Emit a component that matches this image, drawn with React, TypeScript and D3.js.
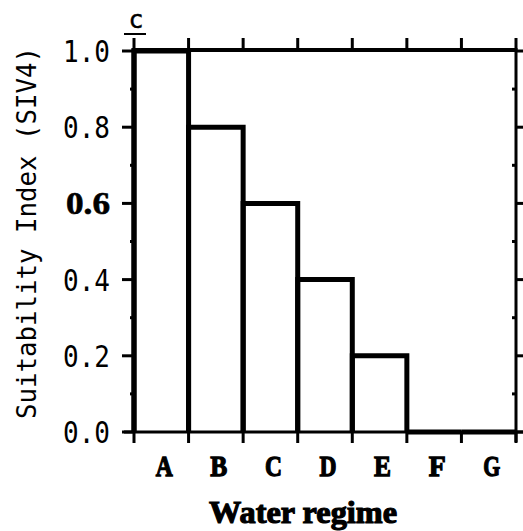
import * as d3 from "d3";

const categories = ["A", "B", "C", "D", "E", "F", "G"];
const values = [1.0, 0.8, 0.6, 0.4, 0.2, 0.0, 0.0];
const yTicks = [0, 0.2, 0.4, 0.6, 0.8, 1.0];
const yMinorTicks = [0.1, 0.3, 0.5, 0.7, 0.9];
const boldTick = 0.6;

const W = 523;
const H = 531;
const left = 134;
const right = 516;
const top = 51;
const bottom = 432;

export default function App() {
  const x = d3.scaleBand<string>().domain(categories).range([left, right]).padding(0);
  const y = d3.scaleLinear().domain([0, 1]).range([bottom, top]);
  const edges = categories.map((c) => x(c)!).concat([right]);

  // step outline of the bars
  const outline = (c: string, i: number) => {
    const x0 = x(c)!;
    const x1 = x0 + x.bandwidth();
    const p = d3.path();
    p.moveTo(x0, y(0));
    p.lineTo(x0, y(values[i]));
    p.lineTo(x1, y(values[i]));
    p.lineTo(x1, y(0));
    return p.toString();
  };

  const mono = "'DejaVu Sans Mono', monospace";
  const serif = "'Liberation Serif', 'DejaVu Serif', serif";

  return (
    <svg width={W} height={H} style={{ position: "absolute", left: 0, top: 0, background: "#fff" }}>
      {/* frame */}
      <line x1={left} x2={right} y1={y(1) - 1} y2={y(1) - 1} stroke="#000" strokeWidth={4} />
      <line x1={left} x2={left} y1={y(1) - 3} y2={bottom} stroke="#000" strokeWidth={5} />
      <line x1={right} x2={right} y1={y(1) - 3} y2={bottom + 10} stroke="#000" strokeWidth={3} />
      <line x1={left - 10} x2={right + 7} y1={bottom} y2={bottom} stroke="#000" strokeWidth={3} />

      {/* bars */}
      {categories.map((c, i) => (
        <path key={c} d={outline(c, i)} fill="none" stroke="#000" strokeWidth={5} strokeLinejoin="miter" />
      ))}

      {/* x ticks top and bottom */}
      {edges.map((e, i) => (
        <g key={i}>
          <line x1={e} x2={e} y1={bottom} y2={bottom + 11} stroke="#000" strokeWidth={3} />
          <line x1={e} x2={e} y1={top - 13} y2={top} stroke="#000" strokeWidth={3} />
        </g>
      ))}

      {/* y ticks */}
      {yTicks.map((t) => (
        <g key={t}>
          <line x1={left - 12} x2={left} y1={y(t)} y2={y(t)} stroke="#000" strokeWidth={3} />
          <line x1={right} x2={right + 7} y1={y(t)} y2={y(t)} stroke="#000" strokeWidth={3} />
          <text
            x={110}
            y={y(t) + 11}
            textAnchor="end"
            fontFamily={t === boldTick ? serif : mono}
            fontWeight={t === boldTick ? "bold" : "normal"}
            fontSize={t === boldTick ? 31 : 30}
            stroke={t === boldTick ? "#000" : "none"}
            strokeWidth={0.6}
            textLength={t === boldTick ? 44 : 47}
            lengthAdjust="spacingAndGlyphs"
          >
            {t.toFixed(1)}
          </text>
        </g>
      ))}
      {yMinorTicks.map((t) => (
        <g key={t}>
          <line x1={left - 4} x2={left} y1={y(t)} y2={y(t)} stroke="#000" strokeWidth={3} />
          <line x1={right - 4} x2={right} y1={y(t)} y2={y(t)} stroke="#000" strokeWidth={3} />
        </g>
      ))}

      {/* category labels */}
      {categories.map((c) => (
        <text
          key={c}
          x={x(c)! + x.bandwidth() / 2 + 3}
          y={476}
          textAnchor="middle"
          fontFamily={serif}
          fontWeight="bold"
          fontSize={30}
          stroke="#000"
          strokeWidth={1.3}
          textLength={17}
          lengthAdjust="spacingAndGlyphs"
        >
          {c}
        </text>
      ))}

      {/* x title */}
      <text
        x={303}
        y={523}
        textAnchor="middle"
        fontFamily={serif}
        fontWeight="bold"
        fontSize={32}
        stroke="#000"
        strokeWidth={1.2}
        textLength={188}
        lengthAdjust="spacingAndGlyphs"
      >
        Water regime
      </text>

      {/* y title */}
      <text
        transform={`translate(27,${233}) rotate(-90)`}
        textAnchor="middle"
        dominantBaseline="central"
        fontFamily={mono}
        fontSize={26}
        textLength={372}
        lengthAdjust="spacingAndGlyphs"
      >
        Suitability Index (SIV4)
      </text>

      {/* panel letter */}
      <text x={136} y={28} textAnchor="middle" fontFamily={mono} fontSize={25} stroke="#000" strokeWidth={0.4}>
        c
      </text>
      <line x1={124} x2={146} y1={34} y2={34} stroke="#000" strokeWidth={2} />
    </svg>
  );
}
